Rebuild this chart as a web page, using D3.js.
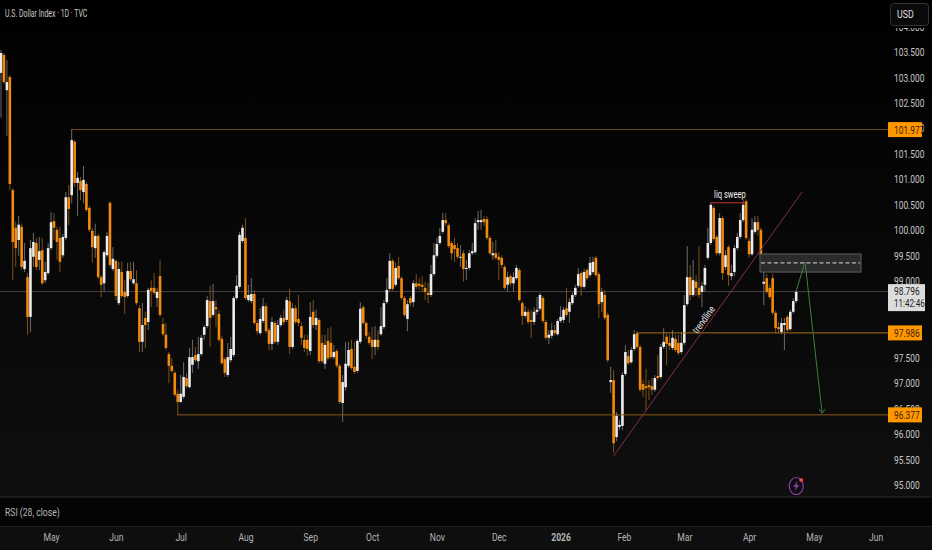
<!DOCTYPE html>
<html><head><meta charset="utf-8">
<script src="https://cdn.jsdelivr.net/npm/d3@7/dist/d3.min.js"></script>
<style>html,body{margin:0;padding:0;background:#000;overflow:hidden}svg{display:block}
text{font-family:"Roboto","Liberation Sans",sans-serif}</style></head>
<body><svg id="c" width="932" height="550"></svg>
<script>
const bodyTop=[103.48,103.44,102.91,103.01,100.79,100.05,100.11,100.07,99.40,99.08,99.65,99.77,99.75,99.59,99.61,99.18,99.65,100.16,100.18,100.01,99.85,99.87,100.65,100.65,101.77,101.74,101.03,100.97,100.99,100.91,100.44,99.99,99.89,99.89,99.08,99.57,99.89,100.54,99.44,99.40,99.24,99.18,98.79,99.20,99.20,99.04,98.96,98.47,98.14,98.28,98.83,98.87,98.87,98.79,99.10,98.16,97.95,97.57,97.34,97.20,96.79,96.79,97.12,97.10,97.51,97.51,97.55,97.57,97.89,98.10,98.63,98.61,98.61,98.49,98.36,97.87,97.47,97.51,97.67,98.67,98.91,99.91,100.05,99.85,98.73,98.75,98.75,98.18,98.26,98.51,98.51,98.04,98.20,98.18,98.14,98.28,98.28,98.63,98.61,98.47,98.47,98.26,98.12,97.85,97.85,98.30,98.40,98.28,98.24,97.79,97.75,97.83,97.79,97.61,97.63,97.34,97.02,97.38,97.65,97.67,97.32,97.83,98.46,98.49,98.18,97.91,97.85,97.85,97.85,98.12,98.57,98.83,99.40,99.40,99.26,99.30,99.06,98.67,98.55,98.67,98.96,98.96,98.95,98.93,98.87,98.77,99.14,99.51,99.73,99.89,100.20,100.20,100.10,99.75,99.71,99.65,99.48,99.55,99.26,99.55,99.59,100.14,100.20,100.20,100.22,100.22,99.85,99.55,99.55,99.48,99.46,99.28,99.08,99.10,99.08,99.26,99.22,98.57,98.40,98.40,98.24,98.40,98.44,98.73,98.67,98.20,97.95,98.04,98.04,98.22,98.30,98.44,98.47,98.59,98.73,98.87,99.14,99.16,99.18,99.22,99.36,99.38,99.46,99.14,98.79,98.73,98.34,97.06,97.06,96.36,96.18,97.16,97.61,97.53,97.65,97.96,97.98,97.71,96.98,96.94,96.96,96.94,97.10,97.14,97.71,97.81,97.91,97.79,97.89,97.87,97.79,97.79,98.53,99.08,99.08,99.02,98.99,98.87,98.91,99.26,99.75,100.50,100.44,99.87,100.24,100.24,99.51,99.67,99.16,99.65,99.87,100.20,100.50,100.57,99.79,100.01,100.16,100.16,100.01,98.99,99.06,98.87,99.06,98.38,98.10,98.18,98.18,98.30,98.40,98.61,98.79];
const bodyBottom=[103.09,102.91,102.75,100.91,99.77,99.65,99.81,99.28,99.24,98.30,98.30,99.48,99.28,99.42,98.96,99.02,99.16,99.65,100.05,99.77,99.38,99.51,99.85,100.42,100.69,100.93,100.93,100.79,100.75,100.40,100.01,99.67,99.65,99.08,98.93,98.96,99.51,99.32,99.24,98.71,98.57,98.71,98.69,98.71,99.04,98.96,98.57,97.81,97.81,98.14,98.20,98.81,98.77,98.67,98.34,97.96,97.69,97.34,97.24,96.77,96.63,96.63,96.73,96.94,96.92,97.36,97.45,97.43,97.57,97.95,98.12,98.28,98.34,98.45,97.85,97.39,97.20,97.16,97.45,97.55,98.67,98.89,99.79,98.67,98.63,98.61,98.18,98.02,97.98,98.22,98.02,97.77,97.77,97.81,97.81,98.14,98.20,98.24,97.71,97.71,98.20,98.18,97.89,97.69,97.67,97.63,98.14,98.14,97.43,97.43,97.38,97.49,97.51,97.51,97.34,96.63,96.61,96.92,97.34,97.30,97.22,97.24,97.81,98.18,97.93,97.79,97.71,97.71,97.71,97.96,98.10,98.59,98.85,98.85,98.93,99.06,98.67,98.34,98.26,98.57,98.59,98.89,98.91,98.89,98.79,98.73,98.73,99.14,99.50,99.75,99.97,100.14,99.69,99.55,99.63,99.48,99.46,99.24,99.24,99.26,99.55,99.57,100.16,100.16,100.16,99.85,99.55,99.51,99.46,99.42,99.32,98.87,98.93,98.96,98.96,99.06,98.63,98.32,98.32,98.20,98.20,98.20,98.40,98.46,98.22,97.89,97.89,97.93,97.98,97.96,98.22,98.24,98.34,98.40,98.57,98.73,98.91,98.89,98.89,99.06,99.12,99.18,99.12,98.55,98.59,98.28,97.45,97.02,95.82,95.94,96.14,96.16,97.18,97.39,97.41,97.67,97.71,96.87,96.87,96.90,96.92,96.87,96.87,97.10,97.12,97.71,97.77,97.73,97.69,97.65,97.59,97.61,97.79,98.55,98.73,98.73,98.87,98.73,98.79,98.93,99.46,99.75,99.83,99.55,99.55,99.16,99.28,99.12,99.10,99.18,99.65,99.87,100.20,99.85,99.53,99.53,99.97,100.01,99.51,98.95,98.79,98.69,98.38,98.08,98.06,98.00,98.14,98.04,98.06,98.40,98.61];
const highs=[103.54,103.48,103.34,103.05,100.83,100.17,100.28,100.13,99.75,99.16,99.81,99.95,99.85,99.87,99.85,99.38,99.75,100.36,100.34,100.07,100.07,99.93,100.75,100.89,101.99,101.77,101.15,101.05,101.26,100.95,100.48,100.05,100.13,99.93,99.12,99.61,99.97,100.57,99.67,99.42,99.38,99.38,99.02,99.36,99.38,99.38,99.22,98.53,98.57,98.40,98.87,99.02,99.16,98.87,99.42,98.28,98.18,97.61,97.49,97.24,96.87,97.16,97.41,97.20,97.69,97.85,97.71,97.91,97.95,98.14,98.71,98.91,98.95,98.63,98.44,97.93,97.51,97.79,97.91,98.71,99.12,99.97,100.11,100.24,98.93,99.06,98.83,98.24,98.47,98.67,98.57,98.08,98.30,98.22,98.24,98.34,98.44,98.69,98.85,98.57,98.53,98.73,98.20,97.95,97.95,98.59,98.63,98.44,98.28,97.95,97.95,98.08,98.10,97.75,97.67,97.38,97.16,97.81,97.81,97.85,97.81,97.87,98.59,98.53,98.22,98.00,98.10,98.12,98.04,98.49,98.63,99.06,99.55,99.44,99.36,99.48,99.10,98.71,98.63,98.71,99.02,99.14,99.06,99.10,98.99,98.97,99.32,99.75,99.85,100.05,100.34,100.34,100.14,99.79,99.85,99.75,99.71,99.61,99.42,99.61,99.75,100.24,100.38,100.40,100.28,100.28,99.89,99.77,99.81,99.57,99.51,99.32,99.18,99.14,99.18,99.32,99.26,98.61,98.51,98.46,98.44,98.49,98.69,98.77,98.71,98.24,98.04,98.18,98.14,98.26,98.51,98.49,98.87,98.67,98.79,98.93,99.26,99.20,99.24,99.26,99.48,99.48,99.50,99.18,98.87,98.83,98.38,97.32,97.26,96.43,96.28,97.22,97.75,97.65,97.71,98.04,98.02,97.75,97.06,97.28,97.06,97.10,97.16,97.55,97.77,98.08,97.98,97.95,98.04,97.95,97.95,98.00,98.73,99.69,99.32,99.42,99.12,99.69,98.99,99.32,100.05,100.54,100.48,99.91,100.34,100.28,99.61,99.71,99.32,99.71,99.95,100.34,100.59,100.61,99.85,100.24,100.28,100.28,100.05,99.18,99.14,98.93,99.14,98.42,98.20,98.28,98.28,98.34,98.44,98.67,98.83];
const lows=[102.21,102.87,101.85,100.79,99.02,99.28,99.50,99.22,99.18,97.95,98.00,99.28,99.22,99.22,98.93,98.96,99.12,99.61,99.81,99.42,99.18,99.46,99.81,100.10,100.53,100.85,100.28,100.59,100.53,100.36,99.97,99.36,99.46,99.04,98.69,98.79,99.48,99.28,99.20,98.63,98.53,98.67,98.36,98.67,99.00,98.93,98.53,97.61,97.61,97.69,98.04,98.49,98.73,98.49,98.30,97.93,97.65,97.00,97.20,96.73,96.37,96.61,96.69,96.90,96.90,97.20,97.41,97.28,97.53,97.85,98.08,97.71,98.30,98.10,97.81,97.36,97.12,97.12,97.41,97.51,98.63,98.85,99.75,98.63,98.59,98.57,98.14,97.96,97.95,98.18,97.98,97.65,97.65,97.77,97.75,98.10,98.14,98.20,97.57,97.67,98.16,98.12,97.75,97.61,97.53,97.55,98.08,98.04,97.39,97.39,97.28,97.45,97.47,97.47,97.30,96.59,96.24,96.85,97.30,97.26,97.18,97.20,97.77,98.14,97.87,97.75,97.47,97.55,97.65,97.93,98.06,98.55,98.81,98.81,98.89,99.02,98.63,98.30,98.02,98.51,98.49,98.85,98.83,98.79,98.63,98.57,98.69,99.10,99.46,99.71,99.93,100.08,99.65,99.42,99.38,99.44,99.28,98.99,99.02,99.22,99.51,99.53,100.01,100.01,100.08,99.81,99.51,99.42,99.42,99.02,99.26,98.83,98.79,98.91,98.79,99.02,98.59,98.14,98.28,98.16,97.89,98.14,98.34,98.42,98.18,97.85,97.77,97.87,97.93,97.93,98.18,98.18,98.30,98.18,98.53,98.69,98.87,98.71,98.85,99.02,99.08,99.14,99.08,98.28,98.40,98.24,97.41,96.81,95.63,95.86,96.08,96.08,97.14,97.36,97.38,97.63,97.67,96.83,96.73,96.47,96.67,96.77,96.83,97.06,97.08,97.67,97.36,97.65,97.65,97.61,97.55,97.57,97.75,98.51,98.63,98.69,98.71,98.67,98.49,98.79,99.42,99.71,99.79,99.50,99.51,99.02,99.22,98.91,99.02,99.10,99.61,99.83,100.16,99.81,99.46,99.50,99.93,99.89,99.48,98.53,98.75,98.65,98.34,97.98,97.98,97.96,97.65,98.00,98.02,98.36,98.57];
const downCandles=[1,3,4,5,7,9,12,14,18,19,20,23,25,27,29,30,31,33,34,37,39,41,42,44,46,47,49,51,52,54,55,56,57,58,59,60,63,66,71,73,74,75,76,83,86,87,90,91,93,96,98,100,101,102,103,104,106,108,109,111,112,114,115,119,120,123,124,125,126,128,133,135,136,137,139,141,142,143,144,145,151,152,153,154,155,157,164,165,166,168,169,170,171,173,176,177,179,180,184,185,188,192,197,199,202,203,205,206,208,213,216,217,218,219,220,221,223,226,227,229,230,234,236,237,242,243,245,247,253,254,257,258,260,261,262,263,264,267];
const monthTicks=[17,39,61,83,105,126,148,169,190,211.5,232,254,276,297];
const monthLabels=["May","Jun","Jul","Aug","Sep","Oct","Nov","Dec","2026","Feb","Mar","Apr","May","Jun"];
const priceTicks=d3.range(95,104.5,0.5);
const levelPrices=[101.977,97.986,96.377];
const levelStart=[24,216,60];
const lastPrice=98.796, countdown="11:42:46";

const svg=d3.select("#c"),W=932,H=550;
const x=d3.scaleLinear().domain([0,270]).range([1,796.2]);
const y=d3.scaleLinear().domain([95,103.5]).range([485,52]);
const plotR=888;
// the reference's type is narrow: squeeze rendered text horizontally by a factor
const fit=(sel,f)=>sel.each(function(){const w=this.getComputedTextLength();
  d3.select(this).attr("textLength",w*f).attr("lengthAdjust","spacingAndGlyphs");});
const defs=svg.append("defs");
const g=defs.append("linearGradient").attr("id","bg").attr("x1",0).attr("x2",0).attr("y1",0).attr("y2",1);
g.append("stop").attr("offset",0).attr("stop-color","#000");
g.append("stop").attr("offset",1).attr("stop-color","#0f0f0f");
defs.append("clipPath").attr("id","plot").append("rect").attr("width",plotR).attr("height",497);

svg.append("rect").attr("width",W).attr("height",497).attr("fill","url(#bg)");
svg.append("rect").attr("y",497).attr("width",W).attr("height",30).attr("fill","#040404");
svg.append("rect").attr("y",527).attr("width",W).attr("height",23).attr("fill","#0e0e0e");
svg.append("line").attr("x1",0).attr("x2",W).attr("y1",497).attr("y2",497).attr("stroke","#2b2b2b");
svg.append("line").attr("x1",0).attr("x2",W).attr("y1",526.5).attr("y2",526.5).attr("stroke","#222");

const plot=svg.append("g").attr("clip-path","url(#plot)");
plot.append("line").attr("x1",0).attr("x2",plotR).attr("y1",y(lastPrice)).attr("y2",y(lastPrice)).attr("stroke","#464440");

const idx=d3.range(bodyTop.length);
const isDown=new Set(downCandles);
plot.append("g").selectAll("line").data(idx).join("line")
 .attr("x1",i=>x(i)).attr("x2",i=>x(i)).attr("y1",i=>y(highs[i])).attr("y2",i=>y(lows[i]))
 .attr("stroke",i=>isDown.has(i)?"#7d5016":"#6b6b6b").attr("stroke-width",1);
plot.append("g").selectAll("rect").data(idx).join("rect")
 .attr("x",i=>x(i)-1.3).attr("width",2.6)
 .attr("y",i=>y(bodyTop[i])).attr("height",i=>Math.max(1,y(bodyBottom[i])-y(bodyTop[i])))
 .attr("fill",i=>isDown.has(i)?"#f28a0c":"#ececec");

const levelColors=["#6e4c22","#a86f12","#8a5a16"];
plot.append("g").selectAll("line").data(levelPrices).join("line")
 .attr("x1",(d,i)=>x(levelStart[i])).attr("x2",plotR).attr("y1",d=>y(d)).attr("y2",d=>y(d))
 .attr("stroke",(d,i)=>levelColors[i]).attr("stroke-width",1);

const trend=[[208,95.57],[272,100.75]];
plot.append("line").attr("x1",x(trend[0][0])).attr("y1",y(trend[0][1])).attr("x2",x(trend[1][0])).attr("y2",y(trend[1][1])).attr("stroke","#84304a").attr("stroke-width",1);
const tx=x(238.7),ty=y(98.24);
plot.append("text").attr("transform",`translate(${tx},${ty}) rotate(-54)`).attr("text-anchor","middle").attr("dy",3)
 .attr("fill","#e6e6e6").attr("font-size",10).text("trendline").call(fit,0.8);

plot.append("line").attr("x1",x(241)).attr("x2",x(252.5)).attr("y1",y(100.54)).attr("y2",y(100.54)).attr("stroke","#c8323c").attr("stroke-width",1);
plot.append("text").attr("x",x(247.5)).attr("y",y(100.54)-5).attr("text-anchor","middle").attr("fill","#eee").attr("font-size",10.5).text("liq sweep").call(fit,0.72);

const zone={a:257.7,b:292,top:99.535,bot:99.18,mid:99.36};
plot.append("rect").attr("x",x(zone.a)).attr("width",x(zone.b)-x(zone.a)).attr("y",y(zone.top)).attr("height",y(zone.bot)-y(zone.top))
 .attr("fill","#2b2b2b").attr("stroke","#5e5e5e");
plot.append("line").attr("x1",x(zone.a)+1).attr("x2",x(zone.b)-1).attr("y1",y(zone.mid)).attr("y2",y(zone.mid)).attr("stroke","#e0e0e0").attr("stroke-dasharray","4 2.5");

const proj=[[270,98.81],[273,99.38],[278.8,96.41]];
plot.append("path").attr("d",d3.line().x(d=>x(d[0])).y(d=>y(d[1]))(proj)).attr("fill","none").attr("stroke","#3e7d3e").attr("stroke-width",1);
const ex=x(278.8),ey=y(96.41);
plot.append("path").attr("d",`M${ex-3},${ey-4}L${ex},${ey}L${ex+3},${ey-4}`).attr("fill","none").attr("stroke","#3e7d3e");

const ix=x(270),iy=y(94.98);
const ic=svg.append("g").attr("transform",`translate(${ix},${iy})`);
ic.append("ellipse").attr("rx",7).attr("ry",8.5).attr("fill","none").attr("stroke","#8d3aa6").attr("stroke-width",1.2);
ic.append("path").attr("d","M1,-5L-3,1L-.5,1L-1.5,5L3,-1L.5,-1Z").attr("fill","#8d3aa6");
ic.append("circle").attr("cx",5).attr("cy",-6).attr("r",2).attr("fill","#e8454f");

const axR=d3.axisRight(y).tickValues(priceTicks).tickFormat(d3.format(".3f")).tickSize(0).tickPadding(0);
const ay=svg.append("g").attr("transform","translate(894,0)").call(axR);
ay.select(".domain").remove();
ay.attr("font-family",null);
ay.selectAll("text").attr("fill","#c8c8c8").attr("font-size",11).call(fit,0.76);
svg.append("rect").attr("x",888).attr("y",0).attr("width",44).attr("height",28).attr("fill","#000");
svg.append("rect").attr("x",890.5).attr("y",3.5).attr("width",38).attr("height",22).attr("rx",3).attr("fill","#0a0a0a").attr("stroke","#333");
svg.append("text").attr("x",897).attr("y",18).attr("fill","#e0e0e0").attr("font-size",11).text("USD").call(fit,0.8);

const tags=svg.append("g").selectAll("g").data(levelPrices).join("g").attr("transform",d=>`translate(888,${y(d)-7.5})`);
tags.append("rect").attr("width",34).attr("height",15).attr("fill","#ff9800");
tags.append("text").attr("x",6).attr("y",11.5).attr("fill","#402000").attr("font-size",11).text(d=>d3.format(".3f")(d)).call(fit,0.76);
const lt=svg.append("g").attr("transform",`translate(888,${y(lastPrice)-7.5})`);
lt.append("rect").attr("width",37).attr("height",27).attr("fill","#dcdcdc");
lt.append("text").attr("x",6).attr("y",11).attr("fill","#222").attr("font-size",11).text(d3.format(".3f")(lastPrice)).call(fit,0.76);
lt.append("text").attr("x",6).attr("y",23).attr("fill","#222").attr("font-size",10.5).text(countdown).call(fit,0.76);

const axB=d3.axisBottom(x).tickValues(monthTicks).tickFormat((d,i)=>monthLabels[i]).tickSize(0).tickPadding(0);
const ax=svg.append("g").attr("transform","translate(0,533)").call(axB);
ax.select(".domain").remove();
ax.attr("font-family",null);
ax.selectAll("text").attr("fill","#b4b4b4").attr("font-size",11).attr("font-weight",(d,i)=>monthLabels[i]==="2026"?"bold":null).call(fit,0.78);

svg.append("text").attr("x",5).attr("y",16.5).attr("fill","#c8c8c8").attr("font-size",10.5).text("U.S. Dollar Index · 1D · TVC").call(fit,0.66);
svg.append("text").attr("x",5).attr("y",516).attr("fill","#b4b4b4").attr("font-size",11).text("RSI (28, close)").call(fit,0.78);
</script></body></html>
